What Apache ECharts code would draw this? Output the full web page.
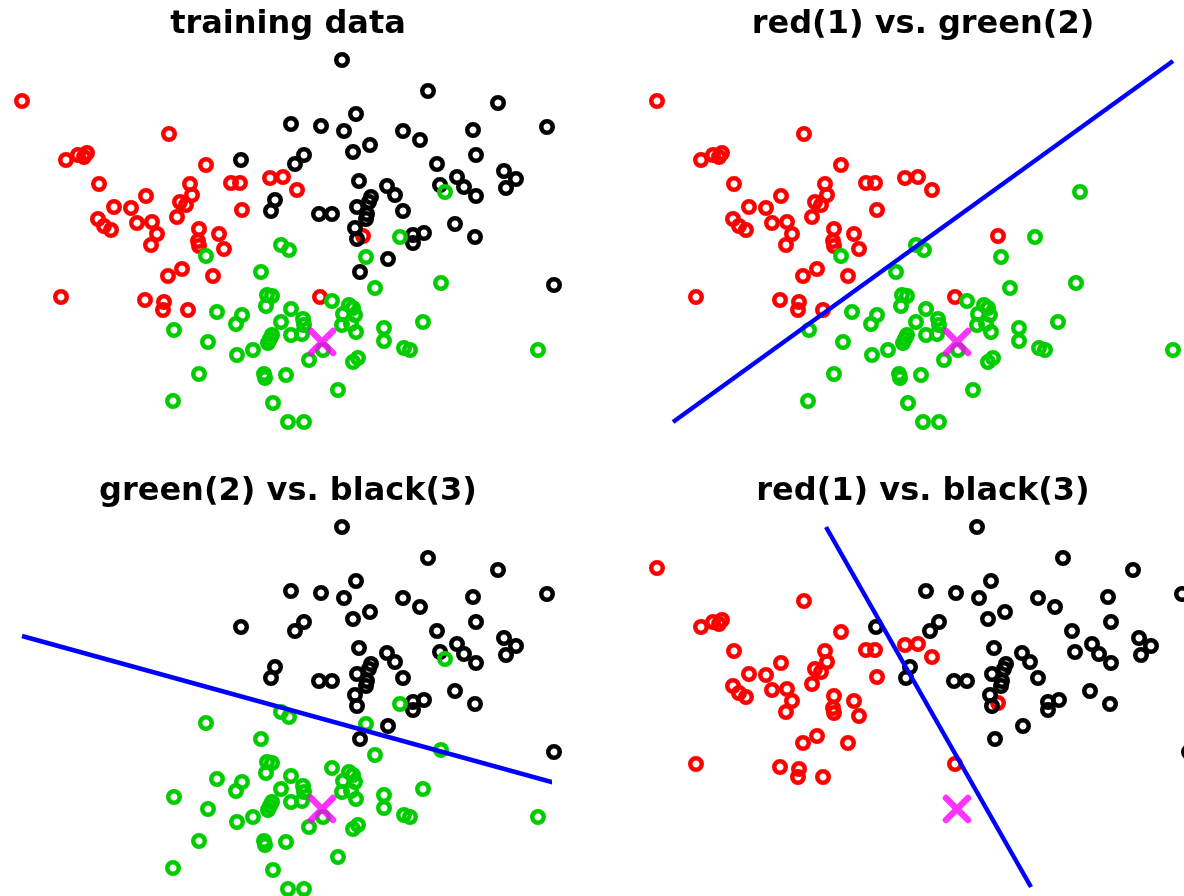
<!DOCTYPE html>
<html>
<head>
<meta charset="utf-8">
<script src="https://cdn.jsdelivr.net/npm/echarts@6/dist/echarts.min.js"></script>
<style>
  html, body { margin: 0; padding: 0; background: #fff; }
  #main { width: 1184px; height: 896px; }
</style>
</head>
<body>
<div id="main"></div>
<script>
// points (x to the right, y downward)
let redPoints = [
  [22,101],[169,134],[66,160],[78,155],[84,157],[87,153],[99,184],[114,207],[131,208],[146,196],
  [98,219],[104,226],[111,230],[137,223],[152,222],[157,234],[151,245],[177,217],[180,202],[186,205],
  [190,184],[192,195],[206,165],[231,183],[240,183],[242,210],[199,229],[198,241],[199,246],[219,234],
  [224,249],[213,276],[168,276],[182,269],[145,300],[164,302],[163,310],[188,310],[61,297],[270,178],
  [283,177],[297,190],[363,236],[320,297]
]
let greenPoints = [
  [206,256],[261,272],[281,245],[289,250],[366,257],[445,192],[400,237],[375,288],[441,283],[423,322],
  [384,328],[384,341],[404,348],[410,350],[538,350],[338,390],[288,422],[304,422],[273,403],[199,374],
  [264,374],[265,378],[286,375],[309,360],[353,362],[358,358],[208,342],[237,355],[253,350],[217,312],
  [242,315],[236,324],[174,330],[173,401],[267,295],[272,296],[266,306],[291,309],[281,322],[303,319],
  [304,325],[302,334],[291,335],[272,335],[270,339],[268,343],[332,301],[349,305],[353,308],[343,314],
  [355,315],[342,325],[351,324],[356,332],[323,350]
]
let blackPoints = [
  [342,60],[428,91],[498,103],[291,124],[321,126],[344,131],[356,114],[403,131],[420,140],[473,130],
  [547,127],[370,145],[353,152],[241,160],[304,155],[295,164],[437,164],[457,177],[476,155],[504,171],
  [516,179],[506,188],[440,185],[464,187],[476,196],[359,181],[387,186],[395,195],[371,197],[369,202],
  [357,207],[367,214],[366,219],[403,211],[275,200],[271,211],[319,214],[332,214],[355,228],[357,239],
  [413,235],[424,233],[413,243],[455,224],[475,237],[388,259],[360,272],[554,285]
]
let testPoint = [[322,342]]

// separating lines (end points)
let lineRG = [[38,422],[538,61]]
let lineGB = [[22,169],[555,316]]
let lineRB = [[191,60],[396,420]]

let titles = ['training data', 'red(1) vs. green(2)', 'green(2) vs. black(3)', 'red(1) vs. black(3)']

const RED = '#ff0000'
const GREEN = '#00cc00'
const BLACK = '#000000'
const BLUE = '#0000ff'
const MAGENTA = '#ff00ff'

// panel origins, grids must stay inside the canvas
const PW = 549
const PH = 429
let panels = [
  { left: 0, top: 0 },
  { left: 635, top: 0 },
  { left: 0, top: 467 },
  { left: 635, top: 467 }
]

let chart = echarts.init(document.getElementById('main'))

let grids = []
let xAxes = []
let yAxes = []
let titleList = []
panels.forEach(function (p, i) {
  grids.push({ left: p.left, top: p.top, width: PW, height: PH })
  xAxes.push({ type: 'value', gridIndex: i, min: 0, max: PW, show: false })
  yAxes.push({ type: 'value', gridIndex: i, min: 0, max: PH, inverse: true, show: false })
  titleList.push({
    text: titles[i],
    left: p.left + 283,
    top: p.top + 4,
    textAlign: 'center',
    textStyle: {
      fontFamily: 'DejaVu Sans',
      fontWeight: 'bold',
      fontSize: 32,
      color: '#000'
    }
  })
})

function ring(points, color, idx) {
  return {
    type: 'scatter',
    xAxisIndex: idx,
    yAxisIndex: idx,
    data: points,
    symbol: 'circle',
    symbolSize: 11.5,
    clip: false,
    itemStyle: { color: 'rgba(0,0,0,0)', borderColor: color, borderWidth: 4.5, opacity: 1 },
    silent: true,
    z: 2
  }
}

function sepLine(points, idx) {
  return {
    type: 'line',
    xAxisIndex: idx,
    yAxisIndex: idx,
    data: points,
    symbol: 'none',
    clip: false,
    lineStyle: { color: BLUE, width: 4.5 },
    silent: true,
    z: 3
  }
}

function cross(idx) {
  return {
    type: 'scatter',
    xAxisIndex: idx,
    yAxisIndex: idx,
    data: testPoint,
    symbol: 'path://M0,0L10,10M10,0L0,10',
    symbolSize: 22,
    clip: false,
    itemStyle: { color: 'none', borderColor: MAGENTA, borderWidth: 6.5, borderCap: 'round' },
    silent: true,
    z: 4
  }
}

let series = [
  // training data
  ring(redPoints, RED, 0), ring(blackPoints, BLACK, 0), ring(greenPoints, GREEN, 0), cross(0),
  // red vs green
  ring(redPoints, RED, 1), ring(greenPoints, GREEN, 1), sepLine(lineRG, 1), cross(1),
  // green vs black
  ring(blackPoints, BLACK, 2), ring(greenPoints, GREEN, 2), sepLine(lineGB, 2), cross(2),
  // red vs black
  ring(redPoints, RED, 3), ring(blackPoints, BLACK, 3), sepLine(lineRB, 3), cross(3)
]

chart.setOption({
  animation: false,
  backgroundColor: '#fff',
  title: titleList,
  grid: grids,
  xAxis: xAxes,
  yAxis: yAxes,
  series: series
})
</script>
</body>
</html>
